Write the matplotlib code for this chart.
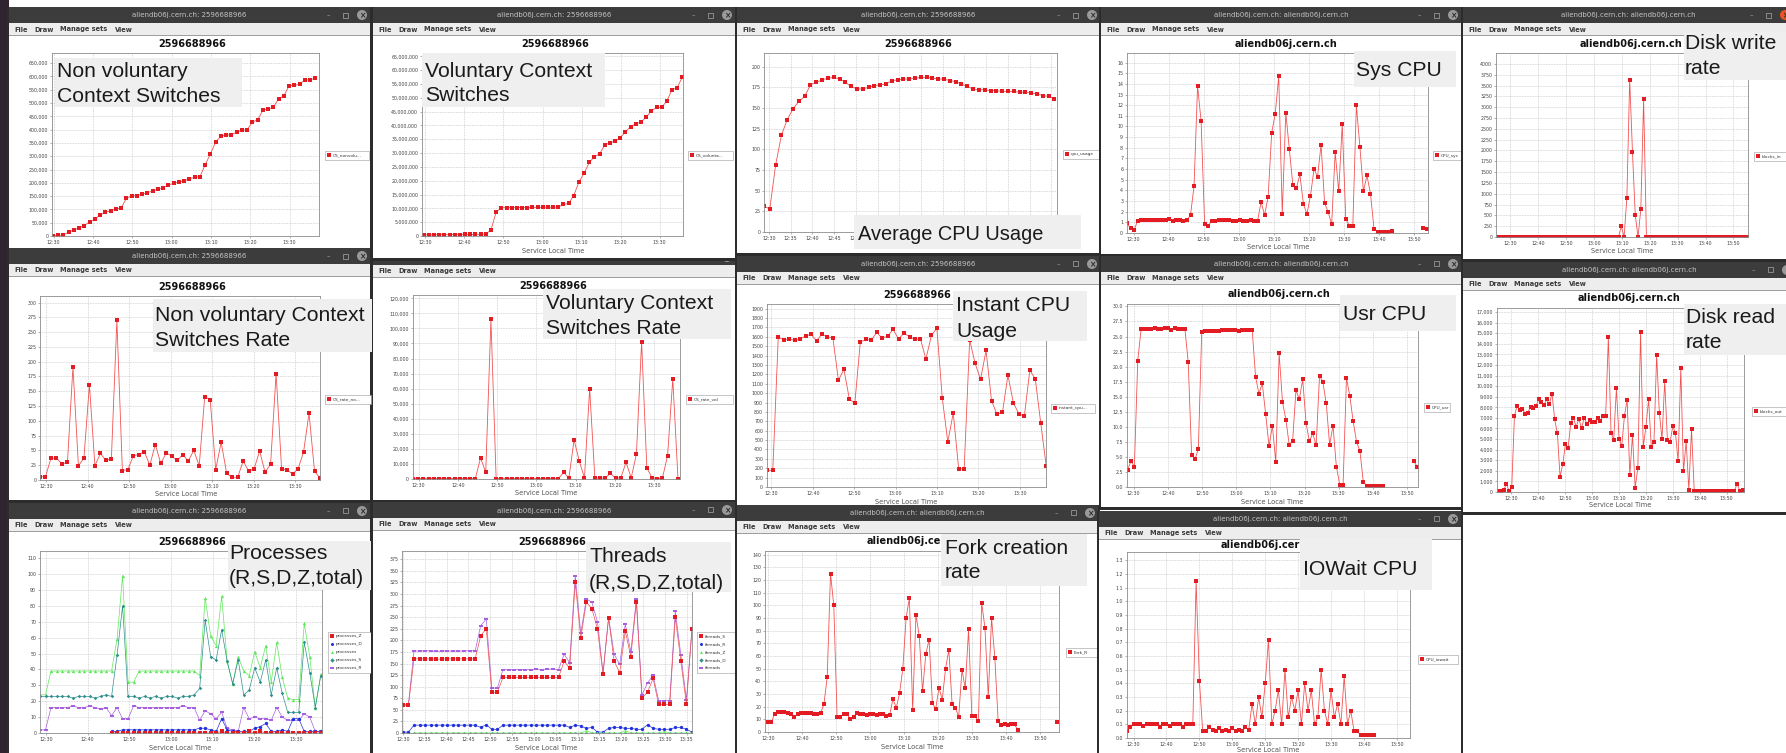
import numpy as np
import matplotlib
matplotlib.use("Agg")
import matplotlib.pyplot as plt
from matplotlib.patches import Rectangle, Circle
from matplotlib.lines import Line2D
from matplotlib.transforms import Affine2D
from matplotlib.ticker import FuncFormatter

W, H = 1786, 753
nan = np.nan

# ---------------- data (time in minutes after 12:00) ----------------
ticks5 = ["12:30", "12:35", "12:40", "12:45", "12:50", "12:55", "13:00",
          "13:05", "13:10", "13:15", "13:20", "13:25", "13:30", "13:35"]
ticks10 = ["12:30", "12:40", "12:50", "13:00", "13:10", "13:20", "13:30"]
ticks10_long = ticks10 + ["13:40", "13:50"]

# cumulative non voluntary context switches (thousands)
cs_nonvol = [0, 2.5, 4, 14, 23, 31, 39, 54, 64, 79, 89, 95, 102, 105, 142, 151, 152, 157,
             163, 169, 176, 182, 192, 198, 203, 208, 215, 221, 223, 267, 309, 353, 376,
             379, 381, 390, 397, 400, 428, 437, 473, 477, 484, 516, 527, 565, 566, 572,
             586, 587, 594]
# cumulative voluntary context switches (millions)
cs_vol = [0.4, 0.4, 0.4, 0.45, 0.45, 0.5, 0.5, 0.5, 0.55, 0.55, 0.6, 0.6, 0.7,
          2.2, 8.7, 10.2,
          10.3, 10.3, 10.3, 10.3, 10.3, 10.35, 10.35, 10.4, 10.4, 10.45, 10.45,
          11.4, 11.8, 14.6, 19.6, 22.7, 26.6, 28.7, 29.7, 32.9, 33.8, 34.2, 35.6,
          37.7, 39.6, 40.6, 41.2, 43.0, 45.2, 46.5, 46.5, 48.9, 52.9, 53.7, 57.5]
cpu_usage = [31, 28, 81, 117, 136, 149, 158, 164, 178, 181, 184, 186, 187, 185, 181, 176,
             173, 173, 175, 177, 178, 179, 183, 184, 185, 185, 186, 187, 187, 186, 185,
             185, 183, 182, 179, 176, 173, 172, 172, 171, 171, 170, 170, 170, 169, 169,
             168, 167, 165, 164, 161]
cpu_sys = [0.9, 0.45, 0.25, 1.15, 1.25, 1.25, 1.2, 1.2, 1.25, 1.25,
           1.2, 1.25, 1.3, 1.15, 1.2, 1.2, 1.15, 1.2, 1.7, 4.4,
           13.8, 10.5, 0.8, 0.7, 1.1, 1.15, 1.2, 1.2, 1.2, 1.2,
           1.15, 1.15, 1.2, 1.15, 1.15, 1.2, 1.15, 1.15, 2.9, 1.7,
           3.4, 9.4, 11.2, 14.7, 1.8, 11.3, 7.9, 4.5, 4.2, 5.5,
           2.7, 1.8, 3.5, 6.0, 5.3, 8.3, 2.8, 2.0, 0.8, 7.6,
           3.9, 10.2, 1.3, 0.7, 0.7, 12.0, 8.1, 3.9, 5.4, 3.7,
           0.4, 0.1, 0.1, 0.1, 0.1, 0.15,
           nan, nan, nan, nan, nan, nan, nan, nan, 0.5, 0.4]
disk_write = [0] * 44 + [250, 0, 910, 3640, 1970, 510, 0, 650, 3190] + [0] * 37
cs_rate_nonvol = [5.6, 5.6, 37, 37, 27, 30, 191, 24, 37, 161,
                  24, 45, 33, 36, 270, 16, 17.5, 41, 43, 48,
                  25, 60, 28, 46, 40, 33, 43, 32, 50, 24,
                  141, 136, 17.5, 64, 11, 4.5, 4.5, 32, 15, 19,
                  49, 13, 27, 180, 19, 17, 10, 19, 47, 113,
                  15, 3]
# thousands
cs_rate_vol = [0.3, 0.3, 0.3, 0.3, 0.3, 0.3, 0.3, 0.3, 0.3, 0.3,
               0.3, 0.3, 0.3, 14, 4.5, 106, 0.3, 0.3, 0.3, 0.3,
               0.3, 0.3, 0.3, 0.3, 0.3, 0.3, 0.3, 0.3, 0.3, 4.5,
               0.5, 26, 12, 0.8, 60, 0.8, 0.5, 0.8, 3.7, 0.5,
               0.8, 11, 0.8, 16.5, 91, 7.5, 0.8, 0.3, 0.5, 15.5,
               66.5, 0.3]
instant_cpu = [178, 178, 1597, 1569, 1576, 1562, 1576, 1611, 1626, 1558,
               1629, 1601, 1586, 1137, 1255, 938, 891, 1544, 1572, 1565,
               1647, 1586, 1608, 1679, 1576, 1640, 1601, 1572, 1579, 1362,
               1615, 1693, 945, 481, 788, 189, 196, 1569, 1316, 1148,
               1455, 920, 774, 795, 1191, 895, 781, 752, 1244, 1152,
               681, 225]
cpu_usr = [2.9, 4.3, 3.4, 21.0, 26.2, 26.2, 26.2, 26.2, 26.4, 26.3,
           26.2, 26.4, 26.4, 26.1, 26.4, 26.3, 26.3, 26.3, 20.7, 5.3,
           4.6, 6.3, 25.7, 25.9, 25.9, 25.9, 25.9, 25.9, 26.0, 26.0,
           26.1, 26.1, 26.1, 25.9, 26.1, 26.1, 26.1, 26.1, 18.3, 15.5,
           17.2, 12.1, 6.8, 10.2, 4.1, 22.2, 14.1, 11.2, 7.0, 7.6,
           16.1, 14.6, 17.9, 10.6, 7.6, 8.9, 6.9, 18.5, 17.4, 13.9,
           7.0, 10.2, 3.4, 0.4, 0.4, 18.1, 15.1, 10.9, 7.5, 6.0,
           0.9, 0.15, 0.15, 0.15, 0.15, 0.15, 0.15,
           nan, nan, nan, nan, nan, nan, nan, nan, 4.3, 3.4]
# thousands
disk_read = [0.1, 0.1, 0.2, 0.75, 0.1, 0.5, 7.2, 8.15, 7.7, 7.85,
             7.4, 7.5, 8.05, 7.95, 8.1, 8.75, 8.5, 8.2, 8.75, 8.3,
             9.3, 6.85, 5.55, 1.45, 2.6, 4.55, 4.15, 6.55, 7.0, 6.15,
             6.9, 6.05, 7.0, 6.45, 6.8, 6.65, 6.65, 7.0, 6.75, 7.15,
             7.15, 14.6, 5.6, 4.95, 9.8, 5.0, 4.35, 7.2, 8.7, 1.6,
             5.4, 0.4, 2.3, 15.1, 4.25, 6.15, 8.75, 4.25, 4.7, 12.95,
             7.5, 5.0, 10.5, 4.95, 4.7, 6.2, 5.6, 2.9, 11.7, 1.95,
             4.8, 0.2, 5.95, 0.1,
             0.1, 0.1, 0.1, 0.1, 0.1, 0.1, 0.1, 0.1, 0.1, 0.1, 0.1, 0.1, 0.1, 0.1, 0.1,
             0.8, 0.1, 0.2]
proc_total = [24, 24, 39, 39, 39, 39, 39, 39, 39, 39,
              39, 39, 39, 39, 59, 99, 32, 32, 39, 39,
              39, 39, 39, 39, 39, 39, 39, 39, 39, 36,
              85, 61, 55, 86, 45, 31, 48, 39, 36, 51,
              41, 55, 32, 57, 35, 22, 21, 21, 69, 48,
              16, 37]
proc_S = [23, 23, 23, 23, 23, 23, 22, 23, 23, 23,
          22, 23, 24, 23, 49, 80, 23, 23, 22, 23,
          22, 23, 22, 23, 23, 22, 23, 23, 24, 28,
          71, 48, 46, 65, 45, 31, 46, 24, 27, 41,
          32, 46, 24, 41, 25, 13, 13, 13, 57, 38,
          16, 36]
proc_R = [2, 2, 16, 16, 16, 16, 17, 16, 16, 17,
          16, 15, 16, 11, 16, 9, 9, 17, 16, 16,
          16, 16, 16, 16, 16, 16, 17, 16, 16, 8,
          14, 12, 9, 13, 3, 2, 1, 16, 9, 10,
          9, 9, 8, 16, 10, 8, 8, 8, 12, 10,
          1, 1]
proc_D = [nan] * 13 + [1, 1, 2, 2, 2, 2, 2, 2, 2, 2, 2, 2, 2, 2, 2, 2, 3, 3, 2, 1,
                       9, 2, 1, 1, 1, 1, 3, 4, 6, 1, 1, 2, 1, 9, 9, 1, 1, 1, 1]
proc_Z = [nan] * 13 + [0, 0, 0, 0, 0, 0, 0, 0, 0, 0, 0, 0, 0, 0, 0, 0, 0, 0, 0, 0,
                       1, 0, 0, 0, 0, 1, 0, 1, 0, 0, 0, 0, 0, 0, 0, 0, 0, 0, 0]
thr_S = [60, 60, 160, 160, 160, 160, 159, 160, 160, 160,
         160, 160, 160, 160, 210, 225, 88, 88, 120, 120,
         120, 120, 120, 120, 120, 120, 120, 120, 120, 155,
         140, 325, 205, 283, 268, 225, 127, 248, 155, 130,
         220, 165, 283, 75, 88, 118, 62, 62, 62, 250,
         155, 62, 225]
thr_total = [62, 62, 177, 177, 178, 177, 176, 177, 177, 177,
             177, 177, 178, 177, 232, 246, 97, 97, 137, 137,
             137, 137, 137, 137, 138, 137, 138, 138, 137, 170,
             152, 340, 215, 290, 282, 240, 130, 250, 170, 148,
             235, 175, 290, 82, 108, 125, 70, 70, 70, 263,
             168, 72, 225]
thr_R = [2, 2, 17, 17, 17, 17, 17, 17, 17, 17,
         17, 17, 17, 17, 12, 18, 8, 8, 17, 17,
         17, 17, 17, 17, 17, 17, 17, 17, 17, 17,
         12, 17, 15, 10, 12, 2, 2, 10, 12, 12,
         10, 10, 8, 8, 18, 10, 8, 8, 8, 12,
         12, 8, 2]
thr_Z = [nan, nan, 0, 0, 0, 0, 0, 0, 0, 0,
         0, 0, 0, 0, 0, 0, 0, 0, 0, 0,
         0, 0, 0, 0, 0, 0, 0, 0, 0, 0,
         0, 0, 0, 5, 0, 0, 0, 0, 0, 0,
         5, 0, 0, 0, 0, 0, 0, 3, 0, 0,
         0, 0, 0]
thr_D = [nan, nan] + [0] * 51
fork_R = [8, 8, 14, 16, 16, 15.5, 15, 14.5, 12, 14,
          15, 15, 15, 15, 14, 14, 15, 22, 43.5, 125,
          100, 12, 11.5, 14.5, 14.5, 10, 12, 15, 14.5, 14,
          13.5, 14, 14.5, 13.5, 14, 14, 13, 13.5, 26, 19,
          30.5, 50, 90, 106, 17, 92.5, 76, 32, 61.5, 73,
          23, 18, 35, 25.5, 50, 65, 22, 19, 12, 49,
          34.5, 81, 13, 12.5, 8.5, 102, 82, 27.5, 90, 58.5,
          9, 5.5, 6, 5.5, 6, 6, 1.5,
          nan, nan, nan, nan, nan, nan, nan, nan, nan, nan, nan, 8]
cpu_iowait = [0.05, 0.08, 0.1, 0.1, 0.1, 0.09, 0.1, 0.1, 0.1, 0.1,
              0.08, 0.1, 0.1, 0.09, 0.1, 0.1, 0.1, 0.08, 0.1, 0.1,
              0.1, 1.15, 0.42, 0.05, 0.05, 0.08, 0.06, 0.05, 0.07, 0.05,
              0.06, 0.05, 0.07, 0.05, 0.06, 0.05, 0.08, 0.06, 0.25, 0.1,
              0.3, 0.15, 0.4, 0.72, 0.1, 0.2, 0.35, 0.1, 0.5, 0.15,
              0.3, 0.2, 0.35, 0.1, 0.4, 0.2, 0.35, 0.1, 0.15, 0.5,
              0.2, 0.1, 0.35, 0.15, 0.25, 0.1, 0.45, 0.1, 0.2, 0.05,
              0.05, 0.02, 0.02, 0.02, 0.02, 0.02]


def hm(s):
    h, m = s.split(":")
    return (int(h) - 12) * 60 + int(m)


def times(start, step, values):
    return start + step * np.arange(len(values))


# ---------------- drawing helpers (pixel coords, origin top-left) ----------------
fig = plt.figure(figsize=(W / 100, H / 100), dpi=100)
fig.patch.set_facecolor("white")
PX = Affine2D().scale(1 / W, -1 / H).translate(0, 1) + fig.transFigure

RED, REDLINE = "#e31b23", "#f25252"
MENU = [(5, "File"), (25, "Draw"), (51, "Manage sets"), (106, "View")]


def box(x0, y0, x1, y1, color, z, ec="none", lw=0):
    fig.add_artist(Rectangle((x0, y0), x1 - x0, y1 - y0, transform=PX,
                             facecolor=color, edgecolor=ec, lw=lw, zorder=z))


def label(x, y, s, z, size=5, color="black", ha="left", va="center",
          weight="normal", family="DejaVu Sans"):
    fig.text(x, y, s, transform=PX, fontsize=size, color=color, ha=ha, va=va,
             fontweight=weight, family=family, zorder=z)


def window(x0, x1, top, bottom, caption, z, close="#9a9a9a", th=16):
    box(x0 - 2, top, x1 + 2, bottom, "#2c2c2c", z)
    box(x0, top, x1, top + th, "#3c3c3c", z)
    cy = top + th / 2
    label((x0 + x1) / 2, cy + 0.5, caption, z, size=5, color="#c4c4c4", ha="center")
    label(x1 - 42, cy, "–", z, size=5, color="#a8a8a8", ha="center")
    box(x1 - 27, cy - 2.5, x1 - 22, cy + 2.5, "none", z, ec="#a8a8a8", lw=0.5)
    fig.add_artist(Circle((x1 - 8, cy), 5, transform=PX, fc=close, ec="none", zorder=z))
    label(x1 - 8, cy + 0.3, "×", z, size=5.5, color="#2c2c2c", ha="center", weight="bold")
    my = top + th
    box(x0, my, x1, my + 12, "#ededed", z)
    box(x0, my + 12, x1, my + 13, "#9e9e9e", z)
    box(x0, my + 13, x1, bottom - 3, "white", z)
    for dx, word in MENU:
        label(x0 + dx, my + 6.5, word, z, size=4.8, color="#3a3a3a", weight="bold")


def panel(z, x0, y0, x1, y1, xlim, ylim, yticks, yfmt, xlabels):
    ax = fig.add_axes([x0 / W, 1 - y1 / H, (x1 - x0) / W, (y1 - y0) / H])
    ax.set_zorder(z + 1)
    ax.set_xlim(*xlim)
    ax.set_ylim(*ylim)
    ax.set_xticks([hm(s) for s in xlabels])
    ax.set_xticklabels(xlabels)
    ax.set_yticks(yticks)
    ax.yaxis.set_major_formatter(FuncFormatter(yfmt))
    ax.grid(True, color="#bcbcbc", lw=0.5, ls=(0, (1, 1.3)))
    ax.set_axisbelow(True)
    for s in ax.spines.values():
        s.set_color("#8c8c8c")
        s.set_linewidth(0.6)
    ax.tick_params(labelsize=3.4, length=1.5, width=0.4, pad=1.2,
                   color="#777777", labelcolor="#444444")
    return ax


def trace(ax, t, v, color=RED, line=REDLINE, marker="s", ms=2.8, lw=0.6):
    ax.plot(t, v, color=line, lw=lw, marker=marker, ms=ms, mfc=color, mec=color, mew=0)


def chart_text(z, title, tx, ty, xlab_x=None, xlab_y=None):
    label(tx, ty, title, z + 1, size=7, weight="bold", color="#111111", ha="center")
    if xlab_x is not None:
        label(xlab_x, xlab_y, "Service Local Time", z + 1, size=4.8, color="#555555", ha="center")


def legend(z, x0, y0, x1, entries, row=8):
    box(x0, y0, x1, y0 + row * len(entries) + 1, "white", z + 2, ec="#9a9a9a", lw=0.4)
    for i, (name, color, marker) in enumerate(entries):
        yy = y0 + row * (i + 0.5) + 0.5
        fig.add_artist(Line2D([x0 + 4], [yy], transform=PX, marker=marker, ms=2.2,
                              color=color, mew=0, zorder=z + 3))
        label(x0 + 7.5, yy, name, z + 3, size=3.1, color="#333333")


def note(z, x0, y0, x1, y1, lines, tx, baselines, size=15.2):
    box(x0, y0, x1, y1, "#efefef", z + 4)
    for s, b in zip(lines, baselines):
        label(tx, b, s, z + 5, size=size, color="#1a1a1a", va="baseline",
              family="Liberation Sans")


comma = lambda v, p: f"{v:,.0f}"
plain = lambda v, p: f"{v:.0f}"
one = lambda v, p: f"{v:.1f}"
HRECT = [(-1, -0.45), (1, -0.45), (1, 0.45), (-1, 0.45), (-1, -0.45)]
GREEN, TEAL, PURPLE, BLUE = "#5fe85a", "#2f8f8f", "#a860e0", "#2233dd"

# desktop strip on the left edge
box(0, 0, 9, H, "#2f2430", 0)

HOST = "aliendb06j.cern.ch"
CAP_ID = "aliendb06j.cern.ch: 2596688966"
CAP_HOST = "aliendb06j.cern.ch: aliendb06j.cern.ch"

# ---- row 1 ----
z = 10
window(9, 370, 7, 262, CAP_ID, z)
ax = panel(z, 52, 53, 319, 236, (29.6, 97.5), (0, 688000), np.arange(0, 650001, 50000), comma, ticks10)
trace(ax, times(29.83, 1.335, cs_nonvol), np.array(cs_nonvol) * 1000)
chart_text(z, "2596688966", 192, 44, 185, 251)
legend(z, 325, 151, 369, [("CS_nonvolu...", RED, "s")])
note(z, 55, 58, 242, 107, ["Non voluntary", "Context Switches"], 57, [77, 102])

z = 20
window(373, 735, 7, 261, CAP_ID, z)
ax = panel(z, 422, 53, 683, 236, (29.15, 95.96), (0, 66.2e6), np.arange(0, 65e6 + 1, 5e6), comma, ticks10)
trace(ax, times(29.6, 1.324, cs_vol), np.array(cs_vol) * 1e6)
chart_text(z, "2596688966", 555, 44, 553, 251)
legend(z, 688, 151, 733, [("CS_volunta...", RED, "s")])
note(z, 422, 53, 605, 107, ["Voluntary Context", "Switches"], 425, [77, 101])

z = 30
window(737, 1100, 7, 256, CAP_ID, z)
ax = panel(z, 764, 53, 1057, 232, (28.85, 96.3), (0, 216.5), np.arange(0, 201, 25), plain, ticks5)
trace(ax, times(28.85, 1.337, cpu_usage), cpu_usage)
chart_text(z, "2596688966", 918, 44)
legend(z, 1063, 150, 1102, [("cpu_usage", RED, "s")])
note(z, 854, 215, 1081, 249, ["Average CPU Usage"], 858, [240], size=14.4)

z = 40
window(1101, 1461, 7, 257, CAP_HOST, z)
ax = panel(z, 1127, 53, 1428, 233, (28.1, 114.0), (0, 16.9), np.arange(0, 17, 1), plain, ticks10_long)
trace(ax, times(28.1, 1.007, cpu_sys), cpu_sys)
chart_text(z, HOST, 1286, 44, 1278, 247)
legend(z, 1433, 151, 1466, [("CPU_sys", RED, "s")])
note(z, 1354, 51, 1456, 87, ["Sys CPU"], 1356, [76])

z = 50
window(1463, 1793, 7, 262, CAP_HOST, z, close="#e95420")
ax = panel(z, 1496, 53, 1748, 237, (24.9, 115.2), (0, 4254), np.arange(0, 4001, 250), plain, ticks10_long)
trace(ax, times(25.8, 1.0, disk_write), disk_write)
chart_text(z, HOST, 1631, 44, 1622, 251)
legend(z, 1754, 152, 1786, [("blocks_in", RED, "s")])
note(z, 1684, 32, 1800, 80, ["Disk write", "rate"], 1685, [49, 74])

# ---- row 2 ----
z = 60
window(9, 370, 248, 503, CAP_ID, z)
ax = panel(z, 40, 296, 320, 480, (28.55, 96.0), (0, 311), np.arange(0, 301, 25), plain, ticks10)
trace(ax, times(28.55, 1.3226, cs_rate_nonvol), cs_rate_nonvol)
chart_text(z, "2596688966", 192, 287, 186, 494)
legend(z, 325, 395, 371, [("CS_rate_no...", RED, "s")])
note(z, 153, 299, 372, 352, ["Non voluntary Context", "Switches Rate"], 155, [321, 346])

z = 15
window(373, 735, 249, 503, CAP_ID, z)
ax = panel(z, 413, 295, 680, 479, (28.56, 96.6), (0, 122200), np.arange(0, 120001, 10000), comma, ticks10)
trace(ax, times(28.56, 1.324, cs_rate_vol), np.array(cs_rate_vol) * 1000)
chart_text(z, "2596688966", 553, 286, 546, 493)
legend(z, 686, 395, 733, [("CS_rate_vol", RED, "s")])
note(z, 543, 289, 731, 339, ["Voluntary Context", "Switches Rate"], 546, [309, 334])

z = 70
window(737, 1100, 256, 509, CAP_ID, z)
ax = panel(z, 767, 304, 1046, 487, (28.95, 96.3), (0, 1950), np.arange(0, 1901, 100), plain, ticks10)
trace(ax, times(29.03, 1.32, instant_cpu), instant_cpu)
chart_text(z, "2596688966", 917, 295, 906, 502)
legend(z, 1051, 404, 1095, [("instant_cpu...", RED, "s")])
note(z, 953, 291, 1087, 341, ["Instant CPU", "Usage"], 956, [311, 337])

z = 80
window(1101, 1461, 256, 510, CAP_HOST, z)
ax = panel(z, 1127, 304, 1418, 487, (28.05, 113.2), (0, 30.4), np.arange(0, 30.01, 2.5), one, ticks10_long)
trace(ax, times(28.24, 0.985, cpu_usr), cpu_usr)
chart_text(z, HOST, 1279, 294, 1272, 502)
legend(z, 1424, 403, 1450, [("CPU_usr", RED, "s")])
note(z, 1340, 295, 1456, 331, ["Usr CPU"], 1343, [320])

z = 90
window(1463, 1795, 262, 515, CAP_HOST, z)
ax = panel(z, 1497, 308, 1744, 492, (24.8, 116.4), (0, 17380), np.arange(0, 17001, 1000), comma, ticks10_long)
trace(ax, times(25.3, 0.995, disk_read), np.array(disk_read) * 1000)
chart_text(z, HOST, 1629, 298, 1620, 505)
legend(z, 1752, 407, 1786, [("blocks_out", RED, "s")])
note(z, 1684, 304, 1800, 355, ["Disk read", "rate"], 1686, [323, 348])

# ---- row 3 ----
z = 110
window(9, 370, 503, 770, CAP_ID, z)
ax = panel(z, 40, 551, 322, 733, (28.55, 96.3), (0, 114.5), np.arange(0, 111, 10), plain, ticks10)
tp = times(28.55, 1.3226, proc_total)
trace(ax, tp, proc_total, color=GREEN, line=GREEN, marker="^", ms=2.4, lw=0.5)
trace(ax, tp, proc_S, color=TEAL, line=TEAL, marker="D", ms=1.8, lw=0.5)
trace(ax, tp, proc_R, color=PURPLE, line=PURPLE, marker=HRECT, ms=2.2, lw=0.5)
trace(ax, tp, proc_D, color=BLUE, line=BLUE, marker="o", ms=2.4, lw=0.5)
trace(ax, tp, proc_Z, color=RED, line=REDLINE, marker="s", ms=2.6, lw=0.5)
chart_text(z, "2596688966", 192, 542, 180, 748)
legend(z, 328, 632, 371, [("processes_Z", RED, "s"), ("processes_D", BLUE, "o"),
                           ("processes", GREEN, "^"), ("processes_S", TEAL, "D"),
                           ("processes_R", PURPLE, HRECT)])
note(z, 228, 541, 372, 590, ["Processes", "(R,S,D,Z,total)"], 229, [559, 584])

z = 120
window(373, 735, 502, 770, CAP_ID, z)
ax = panel(z, 402, 551, 692, 733, (29.8, 96.2), (0, 393), np.arange(0, 376, 25), plain, ticks5)
tt = times(30.0, 1.273, thr_S)
trace(ax, tt, thr_total, color=PURPLE, line=PURPLE, marker=HRECT, ms=2.2, lw=0.5)
trace(ax, tt, thr_S, color=RED, line=REDLINE, marker="s", ms=2.8, lw=0.5)
trace(ax, tt, thr_R, color=BLUE, line=BLUE, marker="o", ms=2.4, lw=0.5)
trace(ax, tt, thr_D, color=TEAL, line=TEAL, marker="D", ms=1.6, lw=0.5)
trace(ax, tt, thr_Z, color=GREEN, line=GREEN, marker="^", ms=2.2, lw=0.5)
chart_text(z, "2596688966", 552, 542, 546, 748)
legend(z, 697, 632, 735, [("threads_S", RED, "s"), ("threads_R", BLUE, "o"),
                           ("threads_Z", GREEN, "^"), ("threads_D", TEAL, "D"),
                           ("threads", PURPLE, HRECT)])
note(z, 586, 542, 731, 592, ["Threads", "(R,S,D,Z,total)"], 589, [562, 589])

z = 130
window(737, 1098, 505, 770, CAP_HOST, z)
ax = panel(z, 765, 551, 1059, 732, (29.1, 115.6), (0, 142.9), np.arange(0, 141, 10), plain, ticks10_long)
trace(ax, times(30.0, 0.967, fork_R), fork_R)
chart_text(z, HOST, 918, 541, 912, 747)
legend(z, 1066, 648, 1097, [("Fork_R", RED, "s")])
note(z, 941, 534, 1087, 586, ["Fork creation", "rate"], 945, [554, 578])

z = 140
window(1099, 1461, 511, 770, CAP_HOST, z)
ax = panel(z, 1127, 552, 1410, 738, (28.0, 114.0), (0, 1.36), np.arange(0, 1.31, 0.1), one, ticks10_long)
trace(ax, times(28.0, 1.0, cpu_iowait), cpu_iowait)
chart_text(z, HOST, 1272, 545, 1268, 750)
legend(z, 1418, 655, 1458, [("CPU_iowait", RED, "s")])
note(z, 1300, 538, 1432, 590, ["IOWait CPU"], 1303, [575])

fig.savefig("out.png", dpi=100, facecolor="white")
